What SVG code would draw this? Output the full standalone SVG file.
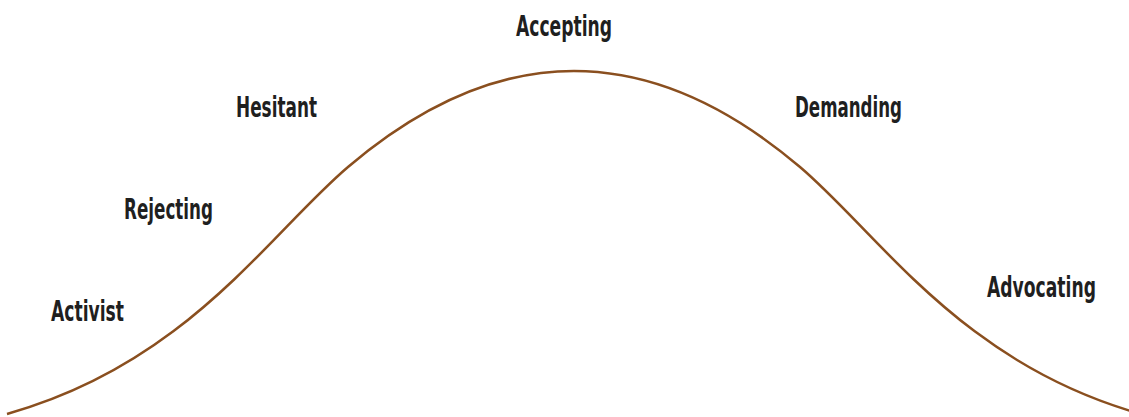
<svg xmlns="http://www.w3.org/2000/svg" width="1129" height="417" viewBox="0 0 1129 417">
<style>
.lbl{font-family:"DejaVu Sans Condensed","Liberation Sans Narrow","DejaVu Sans",sans-serif;font-weight:bold;font-size:28px;fill:#1f1f1f}
.curve{fill:none;stroke:#8a4f1f;stroke-width:2.5}
</style>
<rect width="1129" height="417" fill="#ffffff"/>
<g id="connectors">
<path class="curve" d="M 7 414 C 187 363.6, 268 235, 348 167 Q 574 -25, 800 167 C 880 235, 961 363.6, 1141 414"/>
</g>
<g id="node-accepting"><text class="lbl" x="516" y="36" textLength="96" lengthAdjust="spacingAndGlyphs">Accepting</text></g>
<g id="node-hesitant"><text class="lbl" x="236" y="117" textLength="81" lengthAdjust="spacingAndGlyphs">Hesitant</text></g>
<g id="node-demanding"><text class="lbl" x="795" y="117" textLength="107" lengthAdjust="spacingAndGlyphs">Demanding</text></g>
<g id="node-rejecting"><text class="lbl" x="124" y="219" textLength="89" lengthAdjust="spacingAndGlyphs">Rejecting</text></g>
<g id="node-advocating"><text class="lbl" x="987" y="297" textLength="109" lengthAdjust="spacingAndGlyphs">Advocating</text></g>
<g id="node-activist"><text class="lbl" x="51" y="321" textLength="73" lengthAdjust="spacingAndGlyphs">Activist</text></g>
</svg>
